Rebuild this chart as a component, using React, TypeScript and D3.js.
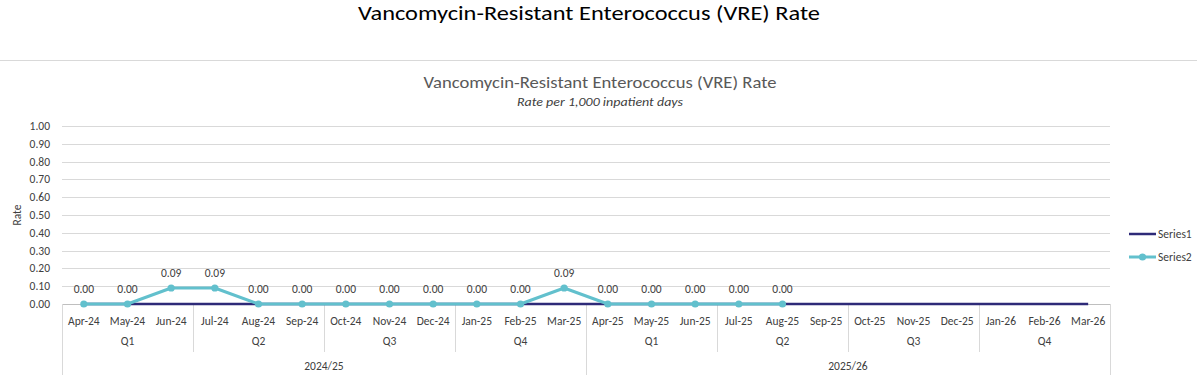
import React from "react";
import * as d3 from "d3";

const months = ["Apr-24","May-24","Jun-24","Jul-24","Aug-24","Sep-24","Oct-24","Nov-24","Dec-24","Jan-25","Feb-25","Mar-25","Apr-25","May-25","Jun-25","Jul-25","Aug-25","Sep-25","Oct-25","Nov-25","Dec-25","Jan-26","Feb-26","Mar-26"];
const quarters = ["Q1","Q2","Q3","Q4","Q1","Q2","Q3","Q4"];
const years = ["2024/25","2025/26"];
const series1: (number | null)[] = [0,0,0,0,0,0,0,0,0,0,0,0,0,0,0,0,0,0,0,0,0,0,0,0];
const series2: (number | null)[] = [0,0,0.09,0.09,0,0,0,0,0,0,0,0.09,0,0,0,0,0,null,null,null,null,null,null,null];
const yTicks = [0,0.1,0.2,0.3,0.4,0.5,0.6,0.7,0.8,0.9,1.0];

const FONT = "Carlito, 'Liberation Sans Narrow', 'DejaVu Sans Condensed', sans-serif";
const C1 = "#2E2A78";
const C2 = "#62C0CD";

export default function App() {
  const W = 1197, H = 375;
  const x = d3.scaleBand<string>().domain(months).range([62, 1110]).padding(0);
  const y = d3.scaleLinear().domain([0, 1]).range([304, 126]);
  const cx = (m: string) => (x(m) as number) + x.bandwidth() / 2;
  const line = d3.line<number | null>()
    .defined((d) => d !== null)
    .x((_, i) => cx(months[i]))
    .y((d) => y(d as number));
  const bw = x.bandwidth();

  return (
    <svg width={W} height={H} style={{ position: "absolute", left: 0, top: 0, background: "#fff" }} fontFamily={FONT}>
      <text x={589} y={20} textAnchor="middle" fontSize={21} fill="#000" textLength={462} lengthAdjust="spacingAndGlyphs">Vancomycin-Resistant Enterococcus (VRE) Rate</text>
      <line x1={0} x2={W} y1={60.5} y2={60.5} stroke="#d9d9d9" strokeWidth={1} />
      <text x={600} y={88} textAnchor="middle" fontSize={17} fill="#595959" textLength={353} lengthAdjust="spacingAndGlyphs">Vancomycin-Resistant Enterococcus (VRE) Rate</text>
      <text x={600} y={106} textAnchor="middle" fontSize={12} fontStyle="italic" fill="#404040" textLength={166} lengthAdjust="spacingAndGlyphs">Rate per 1,000 inpatient days</text>

      {yTicks.map((t) => (
        <g key={t}>
          <line x1={62} x2={1110} y1={Math.round(y(t)) + 0.5} y2={Math.round(y(t)) + 0.5} stroke={t === 0 ? "#bfbfbf" : "#d9d9d9"} strokeWidth={1} />
          <text x={50} y={y(t) + 4} textAnchor="end" fontSize={11.5} fill="#404040">{t.toFixed(2)}</text>
        </g>
      ))}
      <text transform="translate(21,215) rotate(-90)" textAnchor="middle" fontSize={11.5} fill="#404040">Rate</text>

      {months.map((m) => (
        <text key={m} x={cx(m)} y={325} textAnchor="middle" fontSize={11.5} fill="#404040">{m}</text>
      ))}
      {quarters.map((q, i) => (
        <text key={i} x={62 + (i * 3 + 1.5) * bw} y={345} textAnchor="middle" fontSize={11.5} fill="#404040">{q}</text>
      ))}
      {years.map((yr, i) => (
        <text key={yr} x={62 + (i * 12 + 6) * bw} y={370} textAnchor="middle" fontSize={11.5} fill="#404040">{yr}</text>
      ))}
      {d3.range(0, 9).map((k) => {
        const xx = Math.round(62 + k * 3 * bw) + 0.5;
        const isYear = k % 4 === 0;
        return <line key={k} x1={xx} x2={xx} y1={304} y2={isYear ? 375 : 352} stroke="#d9d9d9" strokeWidth={1} />;
      })}

      <path d={line(series1) || ""} fill="none" stroke={C1} strokeWidth={2.5} />
      <path d={line(series2) || ""} fill="none" stroke={C2} strokeWidth={3} strokeLinejoin="round" />
      {series2.map((v, i) => v === null ? null : (
        <g key={i}>
          <circle cx={cx(months[i])} cy={y(v)} r={3.6} fill={C2} />
          <text x={cx(months[i])} y={y(v) - 11} textAnchor="middle" fontSize={11.5} fill="#404040">{v.toFixed(2)}</text>
        </g>
      ))}

      <line x1={1129} x2={1156} y1={234} y2={234} stroke={C1} strokeWidth={2.5} />
      <text x={1158} y={238} fontSize={11.5} fill="#404040">Series1</text>
      <line x1={1129} x2={1156} y1={257} y2={257} stroke={C2} strokeWidth={3} />
      <circle cx={1142.5} cy={257} r={3.6} fill={C2} />
      <text x={1158} y={261} fontSize={11.5} fill="#404040">Series2</text>
    </svg>
  );
}
